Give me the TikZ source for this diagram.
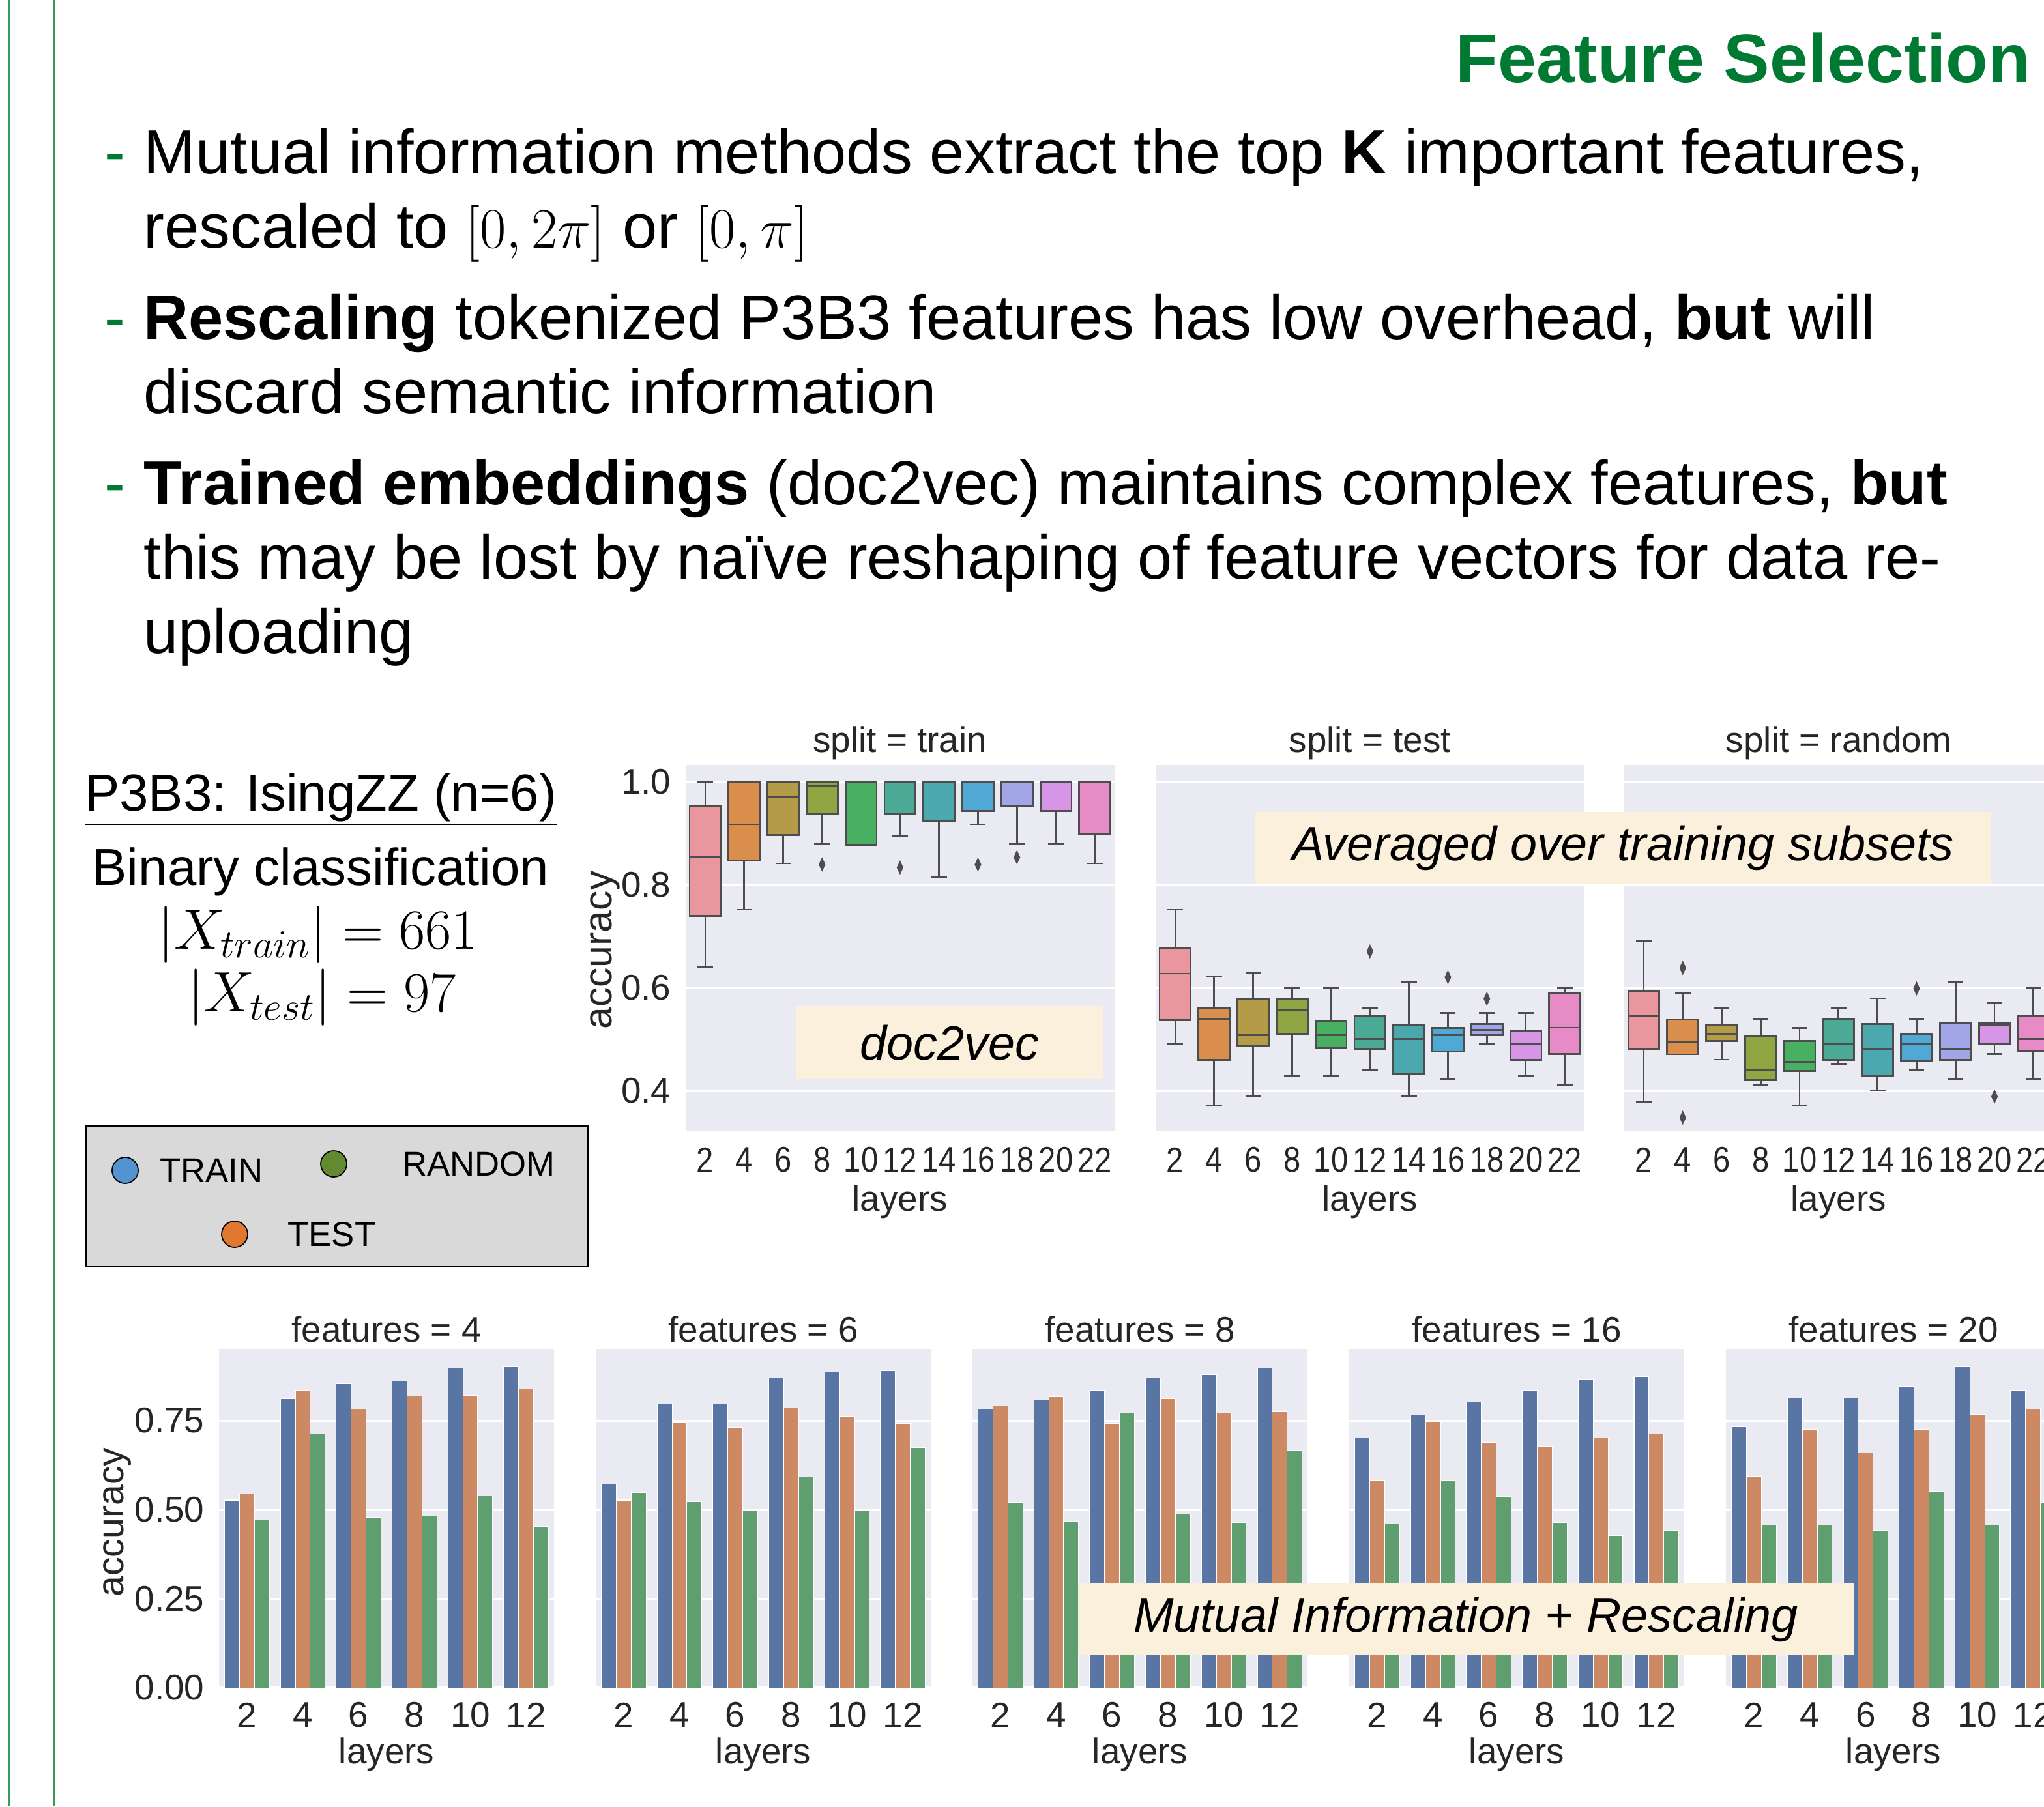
\documentclass[tikz,border=0pt]{standalone}
\usepackage{fontspec}
\setmainfont{Liberation Sans}
\newfontfamily\narrowdigits[FakeStretch=0.86]{Liberation Sans}
\usepackage{xcolor}
\usepackage{tikz}
\usetikzlibrary{positioning}
\definecolor{slidegreen}{HTML}{007A33}
\definecolor{rulegreen}{HTML}{3A9A5A}
\definecolor{panelbg}{HTML}{EAEAF2}
\definecolor{inkgray}{HTML}{262626}
\definecolor{boxedge}{HTML}{4D4D4D}
\definecolor{notebg}{HTML}{FBF0DC}
\definecolor{legendbg}{HTML}{D9D9D9}
\definecolor{dotblue}{HTML}{5294CF}
\definecolor{dotgreen}{HTML}{638A31}
\definecolor{dotorange}{HTML}{E07830}
\definecolor{bartrain}{HTML}{5975A4}
\definecolor{bartest}{HTML}{CC8963}
\definecolor{barrandom}{HTML}{5F9E6E}
% husl colours of the layer boxes
\definecolor{box0}{HTML}{E9969F}
\definecolor{box1}{HTML}{DA8E4B}
\definecolor{box2}{HTML}{B39B47}
\definecolor{box3}{HTML}{8FA642}
\definecolor{box4}{HTML}{48AF63}
\definecolor{box5}{HTML}{4AAA95}
\definecolor{box6}{HTML}{4BA8AE}
\definecolor{box7}{HTML}{50A8D5}
\definecolor{box8}{HTML}{A2A6E8}
\definecolor{box9}{HTML}{D795E6}
\definecolor{box10}{HTML}{E78BC6}

% #1 name, #2 left edge, #3 title, #4 boxes i/low/q1/median/q3/high, #5 outliers
\newcommand{\splitpanel}[5]{%
  \begin{scope}[shift={(#2,995)}, x=0.598cm, y=7.9cm]
    \fill[panelbg] (0,0.3215) rectangle (11,1.033);
    \foreach \v in {0.4,0.6,0.8,1.0}
      \draw[gridline] (0,\v) -- (11,\v);
    \foreach \i/\wl/\qa/\md/\qb/\wh in {#4} {
      \draw[whisker] (\i+0.5,\wl) -- (\i+0.5,\qa) (\i+0.5,\qb) -- (\i+0.5,\wh)
                     (\i+0.3,\wl) -- (\i+0.7,\wl) (\i+0.3,\wh) -- (\i+0.7,\wh);
      \draw[whisker, fill=box\i] (\i+0.1,\qa) rectangle (\i+0.9,\qb);
      \draw[whisker] (\i+0.1,\md) -- (\i+0.9,\md);
    }
    \foreach \i/\v in {#5}
      \fill[boxedge] (\i+0.5,\v+0.014) -- (\i+0.585,\v) -- (\i+0.5,\v-0.014) -- (\i+0.415,\v) -- cycle;
    \foreach \n [count=\i from 0] in {2,4,...,22}
      \node[tick, font=\fontsize{15.6}{18}\narrowdigits] (#1t\n) at (\i+0.5,0.266) {\n};
    \node[tick] (#1title) at (5.5,1.076) {#3};
    \node[tick] (#1xlab) at (5.5,0.185) {layers};
  \end{scope}}

% #1 name, #2 left edge, #3 title, #4 bars i/train/test/random
\newcommand{\featpanel}[4]{%
  \begin{scope}[shift={(#2,1295)}, x=0.857cm, y=5.467cm]
    \fill[panelbg] (0,0) rectangle (6,0.951);
    \foreach \v in {0,0.25,0.5,0.75}
      \draw[gridline] (0,\v) -- (6,\v);
    \foreach \i/\va/\vb/\vc in {#4} {
      \draw[bar, fill=bartrain] (\i+0.1,0) rectangle (\i+0.3667,\va);
      \draw[bar, fill=bartest] (\i+0.3667,0) rectangle (\i+0.6333,\vb);
      \draw[bar, fill=barrandom] (\i+0.6333,0) rectangle (\i+0.9,\vc);
    }
    \foreach \n [count=\i from 0] in {2,4,...,12}
      \node[tick] (#1t\n) at (\i+0.5,-0.077) {\n};
    \node[tick] (#1title) at (3,1.006) {#3};
    \node[tick] (#1xlab) at (3,-0.187) {layers};
  \end{scope}}

\begin{document}
\begin{tikzpicture}[
    x=0.02cm, y=-0.02cm,
    bodyline/.style={anchor=base west, inner sep=0pt, font=\fontsize{27.2}{32}\selectfont},
    bulletmark/.style={bodyline, text=slidegreen},
    infotext/.style={anchor=base, inner sep=0pt, font=\fontsize{22.7}{27}\selectfont},
    mathtext/.style={infotext, font=\fontsize{25.5}{30}\selectfont},
    tick/.style={inner sep=0pt, text=inkgray, font=\fontsize{15.6}{18}\selectfont},
    gridline/.style={white, line width=0.9pt},
    whisker/.style={draw=boxedge, line width=0.8pt},
    bar/.style={draw=white, line width=0.3pt},
    note/.style={fill=notebg, inner sep=0pt, font=\fontsize{21}{25}\selectfont\itshape},
    dot/.style={circle, draw=black, line width=0.5pt, minimum size=0.4cm, inner sep=0pt},
    legtext/.style={inner sep=0pt, font=\fontsize{15}{18}\selectfont}
]
    \useasboundingbox (0,0) rectangle (1568,1386);
    \clip (0,0) rectangle (1568,1386);
    \draw[rulegreen, line width=0.5pt] (7,0) -- (7,1386) (41.5,0) -- (41.5,1386);

    % heading and bullets
    \node[anchor=base east, inner sep=0pt, text=slidegreen,
          font=\fontsize{30.1}{36}\selectfont\bfseries] (heading) at (1558,63) {Feature Selection};
    \node[bulletmark] (m1) at (80,133) {-};
    \node[bodyline] (l1) at (110,133) {Mutual information methods extract the top \textbf{K} important features,};
    \node[bodyline] (l2) at (110,190) {rescaled to $[0,2\pi]$ or $[0,\pi]$};
    \node[bulletmark] (m2) at (80,260) {-};
    \node[bodyline] (l3) at (110,260) {\textbf{Rescaling} tokenized P3B3 features has low overhead, \textbf{but} will};
    \node[bodyline] (l4) at (110,317) {discard semantic information};
    \node[bulletmark] (m3) at (80,387) {-};
    \node[bodyline] (l5) at (110,387) {\textbf{Trained embeddings} (doc2vec) maintains complex features, \textbf{but}};
    \node[bodyline] (l6) at (110,444) {this may be lost by naïve reshaping of feature vectors for data re-};
    \node[bodyline] (l7) at (110,501) {uploading};

    % dataset info
    \node[infotext] (dataset) at (246,622) {\underline{P3B3: IsingZZ (n=6)}};
    \node[infotext] (task) at (246,679) {Binary classification};
    \node[mathtext] (ntrain) at (244,728) {$|X_{train}| = 661$};
    \node[mathtext] (ntest) at (247,776) {$|X_{test}| = 97$};

    % legend
    \draw[fill=legendbg, line width=0.6pt] (66,864) rectangle (451,972);
    \node[dot, fill=dotblue] (dtrain) at (96,898) {};
    \node[legtext, right=0.32cm of dtrain] (ltrain) {TRAIN};
    \node[dot, fill=dotgreen] (drandom) at (256,893) {};
    \node[legtext, right=0.84cm of drandom] (lrandom) {RANDOM};
    \node[dot, fill=dotorange] (dtest) at (180,947) {};
    \node[legtext, right=0.6cm of dtest] (ltest) {TEST};

    % doc2vec box plots
    \splitpanel{tr}{526}{split = train}{
      0/0.641/0.740/0.854/0.954/1.0, 1/0.752/0.848/0.918/1.0/1.0,
      2/0.842/0.897/0.971/1.0/1.0, 3/0.879/0.938/0.993/1.0/1.0,
      4/0.878/0.878/0.878/1.0/1.0, 5/0.894/0.938/1.0/1.0/1.0,
      6/0.815/0.925/1.0/1.0/1.0, 7/0.918/0.944/1.0/1.0/1.0,
      8/0.879/0.953/1.0/1.0/1.0, 9/0.879/0.944/1.0/1.0/1.0,
      10/0.842/0.899/1.0/1.0/1.0}{3/0.840, 5/0.834, 7/0.840, 8/0.854}
    \splitpanel{te}{886.5}{split = test}{
      0/0.491/0.537/0.628/0.678/0.752, 1/0.372/0.460/0.540/0.562/0.622,
      2/0.390/0.487/0.508/0.578/0.630, 3/0.430/0.511/0.556/0.578/0.601,
      4/0.430/0.483/0.508/0.535/0.601, 5/0.440/0.481/0.501/0.546/0.562,
      6/0.390/0.434/0.501/0.527/0.611, 7/0.422/0.476/0.508/0.522/0.551,
      8/0.491/0.508/0.519/0.530/0.551, 9/0.430/0.460/0.491/0.517/0.551,
      10/0.411/0.472/0.523/0.591/0.601}{5/0.671, 7/0.621, 8/0.579}
    \splitpanel{ra}{1246}{split = random}{
      0/0.379/0.482/0.546/0.593/0.691, 1/0.471/0.471/0.496/0.538/0.591,
      2/0.461/0.497/0.511/0.527/0.562, 3/0.411/0.421/0.440/0.506/0.540,
      4/0.372/0.439/0.456/0.497/0.522, 5/0.451/0.460/0.491/0.540/0.562,
      6/0.401/0.430/0.480/0.530/0.580, 7/0.440/0.458/0.491/0.511/0.540,
      8/0.422/0.460/0.480/0.532/0.611, 9/0.472/0.492/0.527/0.532/0.572,
      10/0.422/0.478/0.501/0.546/0.601}{1/0.639, 1/0.348, 7/0.599, 9/0.389}
    \foreach \v in {0.4,0.6,0.8,1.0}
      \node[tick, anchor=east] (ty\v) at (515,995-395*\v) {\v};
    \node[tick, rotate=90, font=\fontsize{17.3}{20}\selectfont] (tylab) at (464,729) {accuracy};

    % mutual information bar plots
    \featpanel{fa}{168}{features = 4}{0/0.527/0.545/0.471, 1/0.811/0.836/0.713,
      2/0.853/0.782/0.478, 3/0.860/0.818/0.482, 4/0.898/0.821/0.538, 5/0.902/0.839/0.453}
    \featpanel{fb}{457}{features = 6}{0/0.571/0.527/0.548, 1/0.796/0.745/0.523,
      2/0.796/0.731/0.499, 3/0.870/0.786/0.592, 4/0.887/0.762/0.499, 5/0.891/0.741/0.674}
    \featpanel{fc}{746}{features = 8}{0/0.782/0.792/0.520, 1/0.807/0.817/0.467,
      2/0.835/0.741/0.771, 3/0.870/0.811/0.487, 4/0.880/0.771/0.463, 5/0.897/0.775/0.666}
    \featpanel{fd}{1035}{features = 16}{0/0.702/0.582/0.460, 1/0.765/0.747/0.582,
      2/0.803/0.688/0.537, 3/0.835/0.677/0.463, 4/0.866/0.702/0.428, 5/0.873/0.712/0.442}
    \featpanel{fe}{1324}{features = 20}{0/0.733/0.593/0.456, 1/0.814/0.726/0.456,
      2/0.814/0.660/0.442, 3/0.846/0.726/0.551, 4/0.901/0.768/0.456, 5/0.835/0.782/0.520}
    \foreach \v/\t in {0/0.00,0.25/0.25,0.5/0.50,0.75/0.75}
      \node[tick, anchor=east] (by\t) at (157,1295-273.3*\v) {\t};
    \node[tick, rotate=90, font=\fontsize{16.3}{19}\selectfont] (bylab) at (90,1168) {accuracy};

    % notes over the plots
    \node[note, minimum width=4.7cm, minimum height=1.12cm] (docnote) at (728.5,800) {doc2vec};
    \node[note, minimum width=11.28cm, minimum height=1.1cm] (avgnote) at (1245,650.5) {Averaged over training subsets};
    \node[note, minimum width=11.9cm, minimum height=1.1cm] (minote) at (1124.5,1242.5) {Mutual Information + Rescaling};
\end{tikzpicture}
\end{document}
